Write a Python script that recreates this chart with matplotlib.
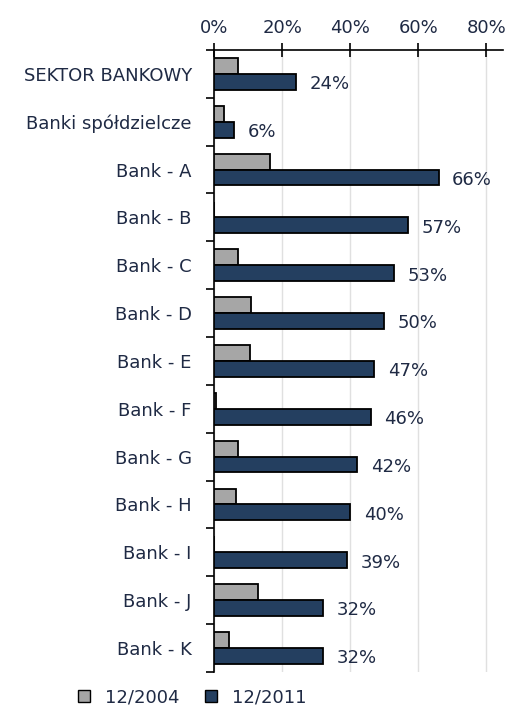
import numpy as np
import matplotlib.pyplot as plt
from matplotlib.patches import Patch

# Data
categories = ["SEKTOR BANKOWY", "Banki spółdzielcze", "Bank - A", "Bank - B", "Bank - C",
              "Bank - D", "Bank - E", "Bank - F", "Bank - G", "Bank - H", "Bank - I",
              "Bank - J", "Bank - K"]
v2004 = [7, 3, 16.5, 0, 7, 11, 10.5, 0.5, 7, 6.5, 0, 13, 4.5]
v2011 = [24, 6, 66, 57, 53, 50, 47, 46, 42, 40, 39, 32, 32]
labels_2011 = ["24%", "6%", "66%", "57%", "53%", "50%", "47%", "46%", "42%", "40%", "39%", "32%", "32%"]

gray = "#a6a6a6"
navy = "#243f60"
txt = "#1f2a44"
fs = 13

fig = plt.figure(figsize=(5.12, 7.14), dpi=100)
ax = fig.add_axes([0.418, 0.059, 0.565, 0.871])

y = np.arange(len(categories))
h = 0.33
ax.barh(y - h / 2, v2004, height=h, color=gray, edgecolor="black", linewidth=1.3, zorder=3)
ax.barh(y + h / 2, v2011, height=h, color=navy, edgecolor="black", linewidth=1.3, zorder=3)

for yi, v, lab in zip(y, v2011, labels_2011):
    ax.text(v + 4, yi + h / 2 + 0.05, lab, va="center", ha="left", fontsize=fs, color=txt)

ax.set_xlim(0, 85)
ax.set_ylim(len(categories) - 0.5, -0.5)
ax.xaxis.tick_top()
ax.set_xticks([0, 20, 40, 60, 80])
ax.set_xticklabels(["0%", "20%", "40%", "60%", "80%"], fontsize=fs, color=txt)
ax.tick_params(axis="x", direction="inout", length=10, width=1.2, pad=4)
ax.grid(axis="x", color="#e0e0e0", linewidth=1, zorder=0)

ax.set_yticks(y)
ax.set_yticklabels(categories, fontsize=fs, color=txt)
ax.tick_params(axis="y", length=0, pad=16)
ax.set_yticks(np.arange(-0.5, len(categories), 1), minor=True)
ax.tick_params(axis="y", which="minor", direction="out", length=6, width=1.2)

for s in ["right", "bottom"]:
    ax.spines[s].set_visible(False)
ax.spines["top"].set_linewidth(1.2)
ax.spines["left"].set_linewidth(1.2)

handles = [Patch(facecolor=gray, edgecolor="black", label="12/2004"),
           Patch(facecolor=navy, edgecolor="black", label="12/2011")]
fig.legend(handles=handles, loc="lower center", bbox_to_anchor=(0.375, -0.012), ncol=2,
           frameon=False, fontsize=fs, handlelength=0.7, handleheight=0.7,
           columnspacing=1.4, handletextpad=0.8, labelcolor=txt)

fig.savefig("out.png", dpi=100)
